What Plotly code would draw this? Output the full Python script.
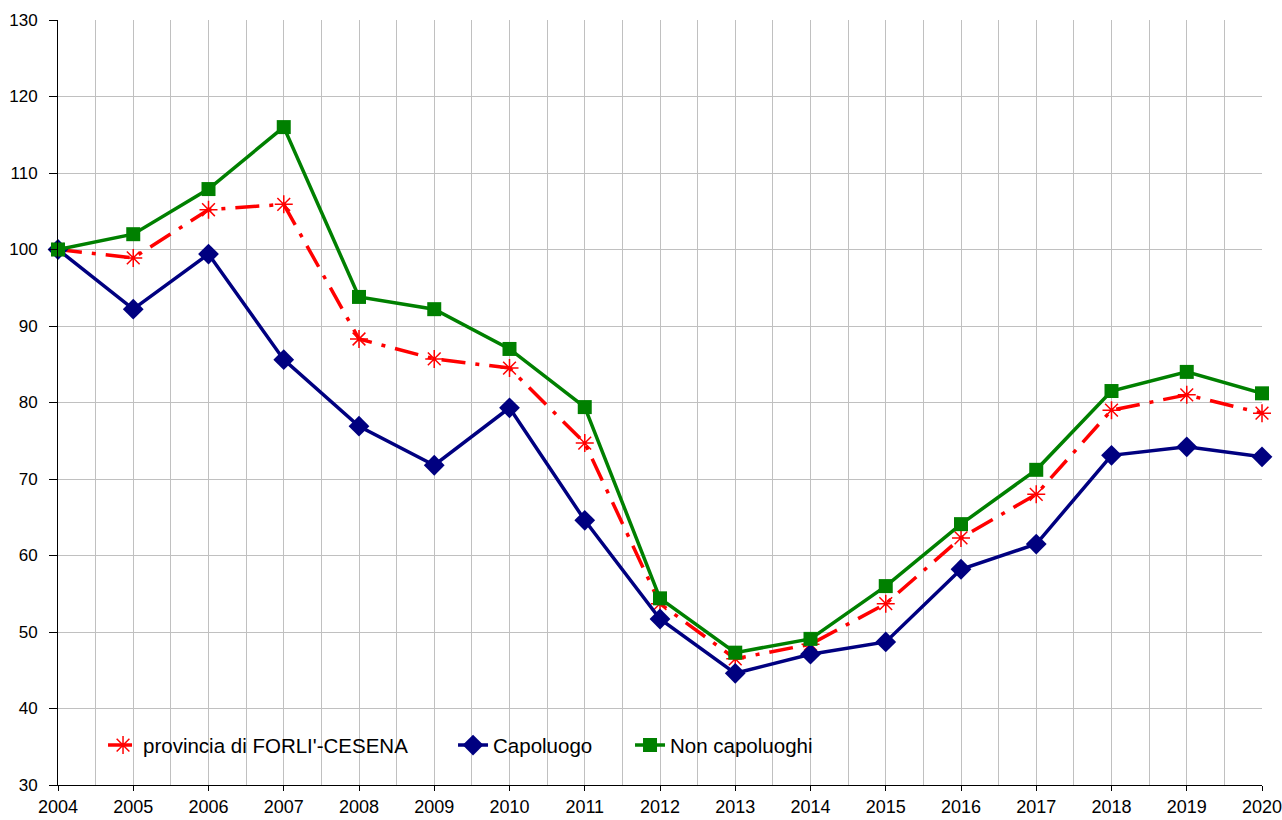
import plotly.graph_objects as go

years = list(range(2004, 2021))
provincia = [100, 98.9, 105.2, 105.9, 88.3, 85.7, 84.5, 74.7, 53.7, 46.5, 48.4, 53.7, 62.3, 68.0, 79.0, 81.0, 78.6]
capoluogo = [100, 92.2, 99.4, 85.6, 76.9, 71.8, 79.3, 64.6, 51.7, 44.6, 47.1, 48.7, 58.2, 61.5, 73.1, 74.2, 72.9]
non_capoluoghi = [100, 102.0, 107.9, 116.0, 93.8, 92.2, 87.0, 79.4, 54.4, 47.3, 49.1, 56.0, 64.1, 71.2, 81.5, 84.0, 81.2]

fig = go.Figure()
fig.add_trace(go.Scatter(
    x=years, y=provincia, name="provincia di FORLI'-CESENA", mode="lines+markers",
    line=dict(color="#ff0000", width=3.5, dash="24px,10px,4px,10px"),
    marker=dict(symbol="asterisk-open", size=15, color="#ff0000", line=dict(color="#ff0000", width=1.5)),
    cliponaxis=False, legend="legend"))
fig.add_trace(go.Scatter(
    x=years, y=capoluogo, name="Capoluogo", mode="lines+markers",
    line=dict(color="#000080", width=3.5),
    marker=dict(symbol="diamond", size=16, color="#000080"),
    cliponaxis=False, legend="legend2"))
fig.add_trace(go.Scatter(
    x=years, y=non_capoluoghi, name="Non capoluoghi", mode="lines+markers",
    line=dict(color="#008000", width=3.5),
    marker=dict(symbol="square", size=14, color="#008000"),
    cliponaxis=False, legend="legend3"))

leg_common = dict(orientation="h", y=0.052, xanchor="left", yanchor="middle",
                  bgcolor="rgba(0,0,0,0)", font=dict(size=20.5))

fig.update_layout(
    width=1282, height=820,
    margin=dict(l=58, r=20, t=20, b=35, autoexpand=False),
    paper_bgcolor="white", plot_bgcolor="white",
    font=dict(family="Liberation Sans, Arial, sans-serif", color="black", size=18),
    showlegend=True,
    legend=dict(x=0.0374, **leg_common),
    legend2=dict(x=0.3281, **leg_common),
    legend3=dict(x=0.4751, **leg_common),
)
fig.update_xaxes(
    range=[2004, 2020], tickmode="linear", tick0=2004, dtick=1,
    showgrid=True, gridcolor="#c0c0c0", gridwidth=1,
    minor=dict(dtick=0.5, showgrid=True, gridcolor="#c0c0c0", gridwidth=1),
    showline=True, linecolor="black", linewidth=1,
    ticks="outside", ticklen=5, tickcolor="black",
    zeroline=False, tickfont=dict(size=18), automargin=False,
    ticklabeloverflow="allow")
fig.update_yaxes(
    range=[30, 130], tickmode="linear", tick0=30, dtick=10,
    showgrid=True, gridcolor="#c0c0c0", gridwidth=1,
    showline=True, linecolor="black", linewidth=1,
    ticks="outside", ticklen=8, tickcolor="black",
    zeroline=False, tickfont=dict(size=17), automargin=False,
    ticklabelstandoff=8, ticklabeloverflow="allow")

fig.write_html("out.html", config={"displayModeBar": False},
               post_script="document.body.style.margin='0';document.body.style.overflow='hidden';")
